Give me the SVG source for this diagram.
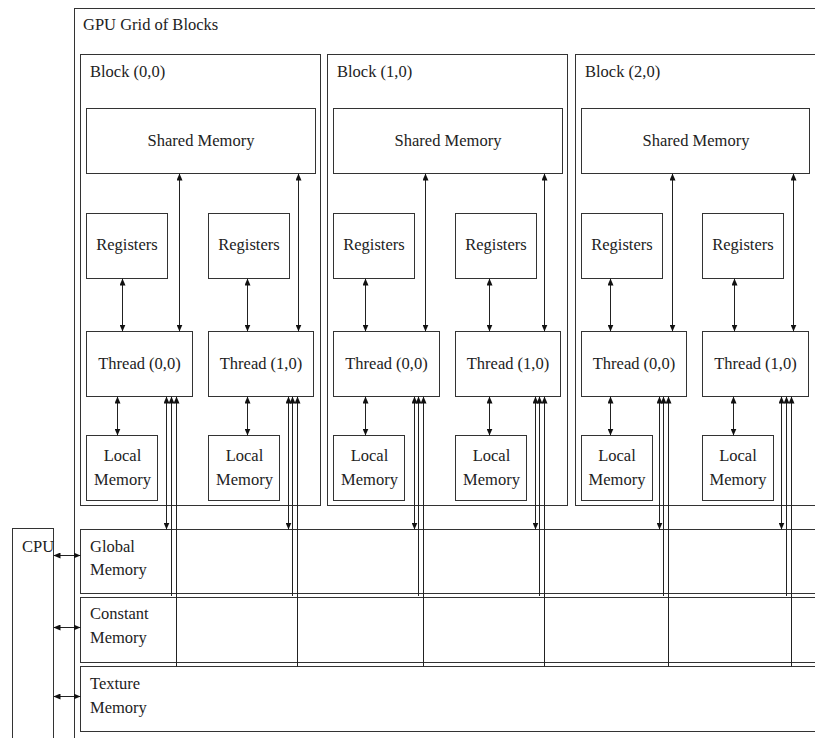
<svg xmlns="http://www.w3.org/2000/svg" width="815" height="738" viewBox="0 0 815 738">
  <defs>
    <style>
      .box { fill: none; stroke: #333; stroke-width: 1; }
      .wire { fill: none; stroke: #222; stroke-width: 1; }
      .both { marker-start: url(#tip); marker-end: url(#tip); }
      .up { marker-start: url(#tip); }
    </style>
    <marker id="tip" viewBox="0 0 7 6" markerUnits="userSpaceOnUse" markerWidth="7" markerHeight="6" refX="7" refY="3" orient="auto-start-reverse">
      <path d="M0,0 L7,3 L0,6 Z" fill="#111"/>
    </marker>
  </defs>
  <rect width="815" height="738" fill="#fff"/>

  <g font-family="'Liberation Serif', 'DejaVu Serif', serif" font-size="16.5" fill="#222">

  <!-- GPU grid container -->
  <g id="gpu-grid">
    <rect class="box" x="74.5" y="8.5" width="760" height="740"/>
    <text x="83" y="30">GPU Grid of Blocks</text>
  </g>

  <!-- Block (0,0) -->
  <g id="block-0">
    <rect class="box" x="80.5" y="54.5" width="240" height="451"/>
    <text x="90" y="77">Block (0,0)</text>
  </g>
  <g id="b0-shared" text-anchor="middle"><rect class="box" x="86.5" y="108.5" width="229" height="65"/><text x="201" y="146">Shared Memory</text></g>
  <g id="b0-reg0" text-anchor="middle"><rect class="box" x="86.5" y="213.5" width="81" height="65"/><text x="127" y="250">Registers</text></g>
  <g id="b0-reg1" text-anchor="middle"><rect class="box" x="208.5" y="213.5" width="81" height="65"/><text x="249" y="250">Registers</text></g>
  <g id="b0-thread0" text-anchor="middle"><rect class="box" x="86.5" y="331.5" width="106" height="65"/><text x="139.5" y="369">Thread (0,0)</text></g>
  <g id="b0-thread1" text-anchor="middle"><rect class="box" x="208.5" y="331.5" width="105" height="65"/><text x="261" y="369">Thread (1,0)</text></g>
  <g id="b0-local0" text-anchor="middle"><rect class="box" x="86.5" y="435.5" width="71" height="65"/><text x="122.5" y="461">Local</text><text x="122.5" y="485">Memory</text></g>
  <g id="b0-local1" text-anchor="middle"><rect class="box" x="208.5" y="435.5" width="71" height="65"/><text x="244.5" y="461">Local</text><text x="244.5" y="485">Memory</text></g>

  <!-- Block (1,0) -->
  <g id="block-1">
    <rect class="box" x="327.5" y="54.5" width="240" height="451"/>
    <text x="337" y="77">Block (1,0)</text>
  </g>
  <g id="b1-shared" text-anchor="middle"><rect class="box" x="333.5" y="108.5" width="229" height="65"/><text x="448" y="146">Shared Memory</text></g>
  <g id="b1-reg0" text-anchor="middle"><rect class="box" x="333.5" y="213.5" width="81" height="65"/><text x="374" y="250">Registers</text></g>
  <g id="b1-reg1" text-anchor="middle"><rect class="box" x="455.5" y="213.5" width="81" height="65"/><text x="496" y="250">Registers</text></g>
  <g id="b1-thread0" text-anchor="middle"><rect class="box" x="333.5" y="331.5" width="106" height="65"/><text x="386.5" y="369">Thread (0,0)</text></g>
  <g id="b1-thread1" text-anchor="middle"><rect class="box" x="455.5" y="331.5" width="105" height="65"/><text x="508" y="369">Thread (1,0)</text></g>
  <g id="b1-local0" text-anchor="middle"><rect class="box" x="333.5" y="435.5" width="71" height="65"/><text x="369.5" y="461">Local</text><text x="369.5" y="485">Memory</text></g>
  <g id="b1-local1" text-anchor="middle"><rect class="box" x="455.5" y="435.5" width="71" height="65"/><text x="491.5" y="461">Local</text><text x="491.5" y="485">Memory</text></g>

  <!-- Block (2,0) -->
  <g id="block-2">
    <rect class="box" x="575.5" y="54.5" width="240" height="451"/>
    <text x="585" y="77">Block (2,0)</text>
  </g>
  <g id="b2-shared" text-anchor="middle"><rect class="box" x="581.5" y="108.5" width="228" height="65"/><text x="696" y="146">Shared Memory</text></g>
  <g id="b2-reg0" text-anchor="middle"><rect class="box" x="581.5" y="213.5" width="81" height="65"/><text x="622" y="250">Registers</text></g>
  <g id="b2-reg1" text-anchor="middle"><rect class="box" x="702.5" y="213.5" width="81" height="65"/><text x="743" y="250">Registers</text></g>
  <g id="b2-thread0" text-anchor="middle"><rect class="box" x="581.5" y="331.5" width="105" height="65"/><text x="634" y="369">Thread (0,0)</text></g>
  <g id="b2-thread1" text-anchor="middle"><rect class="box" x="702.5" y="331.5" width="106" height="65"/><text x="755.5" y="369">Thread (1,0)</text></g>
  <g id="b2-local0" text-anchor="middle"><rect class="box" x="581.5" y="435.5" width="71" height="65"/><text x="617" y="461">Local</text><text x="617" y="485">Memory</text></g>
  <g id="b2-local1" text-anchor="middle"><rect class="box" x="702.5" y="435.5" width="71" height="65"/><text x="738" y="461">Local</text><text x="738" y="485">Memory</text></g>

  <!-- Device memories -->
  <g id="global-mem"><rect class="box" x="80.5" y="529.5" width="760" height="64"/><text x="90" y="552">Global</text><text x="90" y="575">Memory</text></g>
  <g id="constant-mem"><rect class="box" x="80.5" y="597.5" width="760" height="65"/><text x="90" y="619">Constant</text><text x="90" y="643">Memory</text></g>
  <g id="texture-mem"><rect class="box" x="80.5" y="666.5" width="760" height="65"/><text x="90" y="689">Texture</text><text x="90" y="713">Memory</text></g>

  <!-- Host -->
  <g id="cpu"><rect class="box" x="12.5" y="528.5" width="41" height="230"/><text x="22" y="552">CPU</text></g>
  </g>

  <g id="connectors">
    <!-- block (0,0) -->
    <line class="wire both" x1="122.5" y1="278.5" x2="122.5" y2="331.5"/>
    <line class="wire both" x1="179.5" y1="173.5" x2="179.5" y2="331.5"/>
    <line class="wire both" x1="117.5" y1="396.5" x2="117.5" y2="435.5"/>
    <line class="wire both" x1="166.5" y1="396.5" x2="166.5" y2="529.5"/>
    <line class="wire up" x1="171.5" y1="396.5" x2="171.5" y2="596"/>
    <line class="wire up" x1="176.5" y1="396.5" x2="176.5" y2="666.5"/>
    <line class="wire both" x1="247.5" y1="278.5" x2="247.5" y2="331.5"/>
    <line class="wire both" x1="298.5" y1="173.5" x2="298.5" y2="331.5"/>
    <line class="wire both" x1="247.5" y1="396.5" x2="247.5" y2="435.5"/>
    <line class="wire both" x1="288.5" y1="396.5" x2="288.5" y2="529.5"/>
    <line class="wire up" x1="292.5" y1="396.5" x2="292.5" y2="596"/>
    <line class="wire up" x1="297.5" y1="396.5" x2="297.5" y2="666.5"/>
    <!-- block (1,0) -->
    <line class="wire both" x1="365.5" y1="278.5" x2="365.5" y2="331.5"/>
    <line class="wire both" x1="425.5" y1="173.5" x2="425.5" y2="331.5"/>
    <line class="wire both" x1="365.5" y1="396.5" x2="365.5" y2="435.5"/>
    <line class="wire both" x1="414.5" y1="396.5" x2="414.5" y2="529.5"/>
    <line class="wire up" x1="418.5" y1="396.5" x2="418.5" y2="596"/>
    <line class="wire up" x1="423.5" y1="396.5" x2="423.5" y2="666.5"/>
    <line class="wire both" x1="489.5" y1="278.5" x2="489.5" y2="331.5"/>
    <line class="wire both" x1="544.5" y1="173.5" x2="544.5" y2="331.5"/>
    <line class="wire both" x1="489.5" y1="396.5" x2="489.5" y2="435.5"/>
    <line class="wire both" x1="535.5" y1="396.5" x2="535.5" y2="529.5"/>
    <line class="wire up" x1="539.5" y1="396.5" x2="539.5" y2="596"/>
    <line class="wire up" x1="544.5" y1="396.5" x2="544.5" y2="666.5"/>
    <!-- block (2,0) -->
    <line class="wire both" x1="610.5" y1="278.5" x2="610.5" y2="331.5"/>
    <line class="wire both" x1="672.5" y1="173.5" x2="672.5" y2="331.5"/>
    <line class="wire both" x1="610.5" y1="396.5" x2="610.5" y2="435.5"/>
    <line class="wire both" x1="659.5" y1="396.5" x2="659.5" y2="529.5"/>
    <line class="wire up" x1="663.5" y1="396.5" x2="663.5" y2="596"/>
    <line class="wire up" x1="668.5" y1="396.5" x2="668.5" y2="666.5"/>
    <line class="wire both" x1="734.5" y1="278.5" x2="734.5" y2="331.5"/>
    <line class="wire both" x1="793.5" y1="173.5" x2="793.5" y2="331.5"/>
    <line class="wire both" x1="733.5" y1="396.5" x2="733.5" y2="435.5"/>
    <line class="wire both" x1="781.5" y1="396.5" x2="781.5" y2="529.5"/>
    <line class="wire up" x1="786.5" y1="396.5" x2="786.5" y2="596"/>
    <line class="wire up" x1="791.5" y1="396.5" x2="791.5" y2="666.5"/>
    <!-- host transfers -->
    <line class="wire both" x1="53.5" y1="555.5" x2="80.5" y2="555.5"/>
    <line class="wire both" x1="53.5" y1="627.5" x2="80.5" y2="627.5"/>
    <line class="wire both" x1="53.5" y1="696.5" x2="80.5" y2="696.5"/>
  </g>
</svg>
